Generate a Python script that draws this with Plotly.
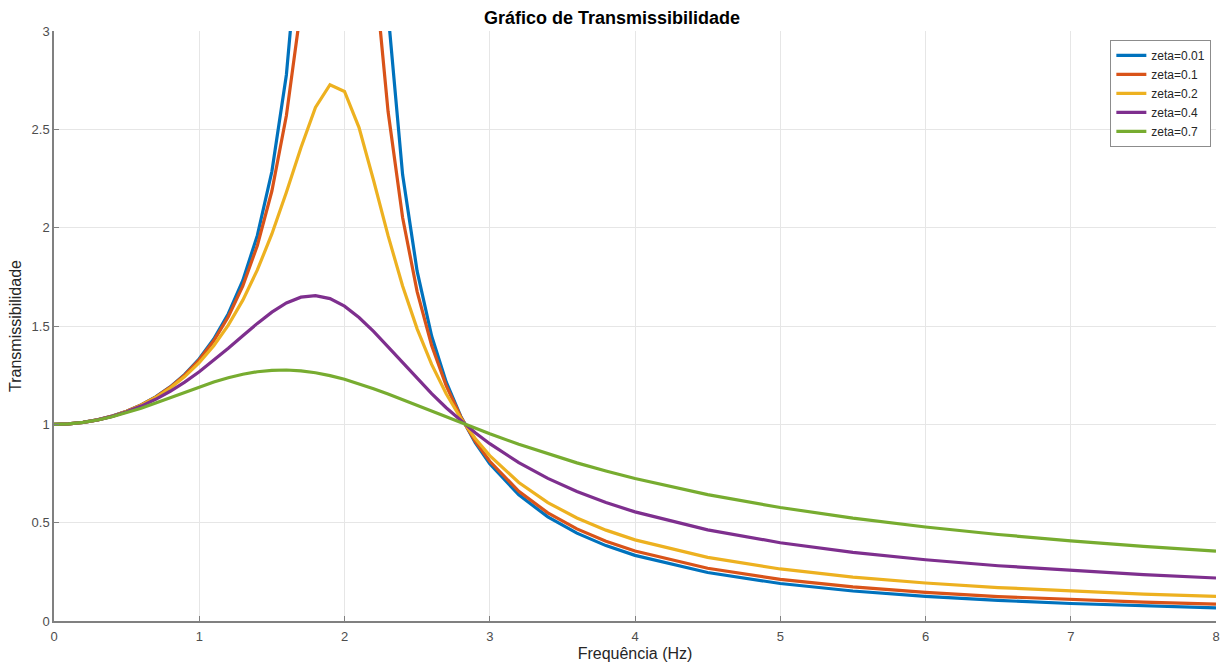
import plotly.graph_objects as go

freq = [0.0, 0.1, 0.2, 0.3, 0.4, 0.5, 0.6, 0.7, 0.8, 0.9, 1.0, 1.1, 1.2, 1.3, 1.4, 1.5,
        1.6, 1.7, 1.8, 1.9, 2.0, 2.1, 2.2, 2.3, 2.4, 2.5, 2.6, 2.7, 2.8, 2.9, 3.0,
        3.2, 3.4, 3.6, 3.8, 4.0, 4.5, 5.0, 5.5, 6.0, 6.5, 7.0, 7.5, 8.0]

t_001 = [1.0, 1.0025, 1.0101, 1.0230, 1.0417, 1.0667, 1.0989, 1.1396, 1.1905, 1.2539,
         1.3333, 1.4337, 1.5625, 1.7316, 1.9608, 2.2857, 2.7778, 3.6036, 5.241, 10.07,
         50.01, 9.56, 4.737, 3.093, 2.270, 1.779, 1.449, 1.2156, 1.0416, 0.9071, 0.8001,
         0.6412, 0.5293, 0.4467, 0.3834, 0.3336, 0.2464, 0.1907, 0.1526, 0.1252, 0.1048,
         0.0891, 0.0768, 0.0669]
t_01 = [1.0, 1.0025, 1.0101, 1.0230, 1.0416, 1.0665, 1.0985, 1.1388, 1.1889, 1.2510,
        1.3282, 1.4247, 1.5468, 1.7035, 1.9093, 2.1863, 2.5707, 3.1169, 3.882, 4.766,
        5.099, 4.373, 3.367, 2.5904, 2.0519, 1.6745, 1.4013, 1.1965, 1.0385, 0.9133, 0.8122,
        0.6593, 0.5500, 0.4685, 0.4056, 0.3559, 0.2683, 0.2120, 0.1733, 0.1454, 0.1244,
        0.1083, 0.0955, 0.0853]
t_02 = [1.0, 1.0025, 1.0101, 1.0229, 1.0414, 1.0659, 1.0973, 1.1363, 1.1843, 1.2428,
        1.3138, 1.4000, 1.5046, 1.6315, 1.7849, 1.9681, 2.1798, 2.4067, 2.6110, 2.7269,
        2.6926, 2.5088, 2.2409, 1.9593, 1.7035, 1.4856, 1.3045, 1.1551, 1.0313, 0.9280, 0.8411,
        0.7041, 0.6021, 0.5237, 0.4620, 0.4125, 0.3233, 0.2646, 0.2234, 0.1931, 0.1700,
        0.1518, 0.1371, 0.1251]
t_04 = [1.0, 1.0025, 1.0100, 1.0227, 1.0406, 1.0639, 1.0927, 1.1274, 1.1681, 1.2147,
        1.2671, 1.3248, 1.3865, 1.4504, 1.5132, 1.5705, 1.6169, 1.6465, 1.6548, 1.6392,
        1.6008, 1.5433, 1.4724, 1.3938, 1.3127, 1.2326, 1.1560, 1.0842, 1.0179, 0.9570, 0.9015,
        0.8049, 0.7250, 0.6584, 0.6024, 0.5549, 0.4634, 0.3980, 0.3491, 0.3113, 0.2811,
        0.2565, 0.2359, 0.2186]
t_07 = [1.0, 1.0025, 1.0099, 1.0220, 1.0385, 1.0587, 1.0822, 1.1080, 1.1353, 1.1629,
        1.1898, 1.2148, 1.2367, 1.2545, 1.2674, 1.2747, 1.2763, 1.2721, 1.2624, 1.2478,
        1.2289, 1.2065, 1.1814, 1.1543, 1.1258, 1.0965, 1.0669, 1.0374, 1.0082, 0.9796, 0.9518,
        0.8987, 0.8494, 0.8041, 0.7626, 0.7245, 0.6429, 0.5769, 0.5228, 0.4778, 0.4399,
        0.4076, 0.3796, 0.3553]

series_names = ["zeta=0.01", "zeta=0.1", "zeta=0.2", "zeta=0.4", "zeta=0.7"]
series_values = [t_001, t_01, t_02, t_04, t_07]
colors = ["#0072BD", "#D95319", "#EDB120", "#7E2F8E", "#77AC30"]

x_ticks = [0, 1, 2, 3, 4, 5, 6, 7, 8]
y_ticks = [0, 0.5, 1, 1.5, 2, 2.5, 3]
y_tick_text = ["0", "0.5", "1", "1.5", "2", "2.5", "3"]

fig = go.Figure()
for name, vals, col in zip(series_names, series_values, colors):
    fig.add_trace(go.Scatter(x=freq, y=vals, mode="lines", name=name,
                             line=dict(color=col, width=3.2)))

font_family = "Liberation Sans, Arial, Helvetica, sans-serif"
fig.update_layout(
    width=1224, height=663,
    margin=dict(l=54, r=8, t=31, b=42),
    paper_bgcolor="white", plot_bgcolor="white",
    font=dict(family=font_family, size=13, color="#262626"),
    title=dict(text="<b>Gráfico de Transmissibilidade</b>", x=0.5, xanchor="center",
               y=0.974, yanchor="middle", font=dict(size=18, color="#000000")),
    showlegend=True,
    legend=dict(x=0.996, y=0.985, xanchor="right", yanchor="top",
                bgcolor="white", bordercolor="#8c8c8c", borderwidth=1,
                font=dict(size=12, color="#262626"), tracegroupgap=0,
                itemwidth=30),
    xaxis=dict(range=[0, 8], tickvals=x_ticks, showgrid=True, gridcolor="#e6e6e6",
               gridwidth=1, zeroline=False, showline=True, linecolor="#808080",
               linewidth=1.5, mirror=False, ticks="inside", ticklen=5, tickcolor="#808080",
               ticklabelstandoff=3, automargin=False,
               title=dict(text="Frequência (Hz)", font=dict(size=16, color="#262626"),
                          standoff=4),
               tickfont=dict(size=13, color="#4d4d4d")),
    yaxis=dict(range=[0, 3], tickvals=y_ticks, ticktext=y_tick_text, showgrid=True,
               gridcolor="#e6e6e6", gridwidth=1, zeroline=False, showline=True,
               linecolor="#808080", linewidth=1.5, mirror=False, ticks="inside",
               ticklen=5, tickcolor="#808080", automargin=False,
               title=dict(text="Transmissibilidade", font=dict(size=16, color="#262626"),
                          standoff=6),
               tickfont=dict(size=13, color="#4d4d4d")),
)

fig.write_html("out.html")
